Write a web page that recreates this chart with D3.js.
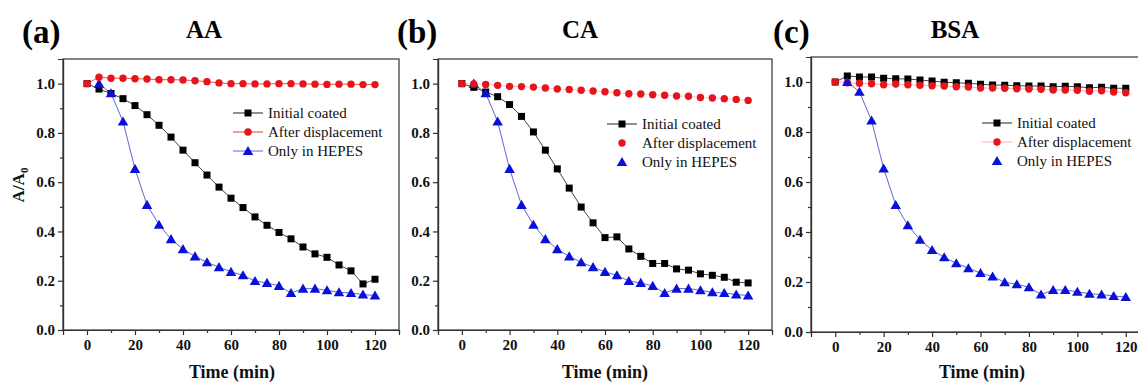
<!DOCTYPE html>
<html><head><meta charset="utf-8">
<script src="https://cdn.jsdelivr.net/npm/d3@7"></script>
<style>body{margin:0;background:#fff;} svg{display:block;} text{font-family:"Liberation Serif","Times New Roman",serif;}</style>
</head><body><svg id="c" width="1138" height="383"></svg>
<script>
// ---- data ----
const timeAll = [0,5,10,15,20,25,30,35,40,45,50,55,60,65,70,75,80,85,90,95,100,105,110,115,120];
const timeFrom5 = timeAll.slice(1);
const seriesNames = ["Initial coated","After displacement","Only in HEPES"];
const xTicks = [0,20,40,60,80,100,120];
const yTicks = [0.0,0.2,0.4,0.6,0.8,1.0];
const panelLetters = ["(a)","(b)","(c)"];
const panelTitles = ["AA","CA","BSA"];

const aaInitial = [1.0,0.978,0.96,0.939,0.911,0.874,0.831,0.783,0.730,0.679,0.629,0.580,0.535,0.497,0.459,0.425,0.396,0.370,0.337,0.309,0.295,0.264,0.240,0.187,0.206];
const aaAfter = [1.0,1.026,1.022,1.022,1.020,1.019,1.016,1.016,1.015,1.012,1.008,1.003,1.0,1.0,0.999,0.999,1.0,1.0,0.999,0.998,0.997,0.998,0.998,0.996,0.996];
const caInitial = [1.0,0.985,0.966,0.947,0.915,0.867,0.804,0.730,0.654,0.576,0.499,0.435,0.375,0.378,0.329,0.299,0.270,0.270,0.248,0.243,0.228,0.222,0.214,0.194,0.191];
const caAfter = [1.0,0.999,0.997,0.993,0.989,0.988,0.986,0.982,0.978,0.976,0.973,0.970,0.967,0.963,0.959,0.958,0.955,0.953,0.950,0.949,0.944,0.942,0.939,0.936,0.932];
const bsaInitial = [1.0,1.024,1.020,1.020,1.015,1.013,1.012,1.008,1.004,0.999,0.997,0.995,0.991,0.988,0.987,0.985,0.984,0.984,0.981,0.983,0.981,0.977,0.979,0.975,0.975];
const bsaAfter = [1.0,0.997,0.995,0.993,0.989,0.992,0.989,0.987,0.985,0.984,0.981,0.980,0.976,0.976,0.975,0.973,0.972,0.971,0.968,0.968,0.967,0.963,0.965,0.960,0.957];
const hepesOnly = [1.0,0.961,0.846,0.654,0.508,0.427,0.369,0.328,0.299,0.275,0.255,0.236,0.222,0.199,0.191,0.179,0.150,0.168,0.168,0.161,0.153,0.150,0.144,0.140];

// ---- layout ----
const panels = [
  {l:63, r:399, t:59, b:330, ini:aaInitial, aft:aaAfter, leg:{x:233,y:113}, legLines:[true,true,true], xl:232},
  {l:438, r:772, t:59, b:330, ini:caInitial, aft:caAfter, leg:{x:607,y:124}, legLines:[true,false,false], xl:605},
  {l:811, r:1150, t:57, b:332, ini:bsaInitial, aft:bsaAfter, leg:{x:982,y:123}, legLines:[true,true,false], xl:982, faintRed:true}
];
const titlePos = [{lx:22,tx:204},{lx:397,tx:580},{lx:773,tx:955}];
const serif = '"Liberation Serif","Times New Roman",serif';
const svg = d3.select("#c");
const defs = svg.append("defs");

panels.forEach((p,i)=>{
  const x = d3.scaleLinear().domain([-10,130]).range([p.l,p.r]);
  const y = d3.scaleLinear().domain([0,1.1]).range([p.b,p.t]);
  const g = svg.append("g");
  defs.append("clipPath").attr("id","clip"+i).append("rect")
    .attr("x",p.l).attr("y",p.t-10).attr("width",p.r-p.l).attr("height",p.b-p.t+20);

  g.append("rect").attr("x",p.l).attr("y",p.t).attr("width",p.r-p.l).attr("height",p.b-p.t)
    .attr("fill","none").attr("stroke","#333").attr("stroke-width",1.2);

  const xAx = g.append("g").attr("transform",`translate(0,${p.b})`)
    .call(d3.axisBottom(x).tickValues(xTicks).tickSize(5).tickPadding(4).tickFormat(d3.format("d")));
  const xMinor = g.append("g").attr("transform",`translate(0,${p.b})`)
    .call(d3.axisBottom(x).tickValues(d3.range(10,121,20)).tickSize(3).tickFormat(""));
  const yAx = g.append("g").attr("transform",`translate(${p.l},0)`)
    .call(d3.axisLeft(y).tickValues(yTicks).tickSize(5).tickPadding(3).tickFormat(d3.format(".1f")));
  const yMinor = g.append("g").attr("transform",`translate(${p.l},0)`)
    .call(d3.axisLeft(y).tickValues([0.1,0.3,0.5,0.7,0.9]).tickSize(3).tickFormat(""));
  [xAx,xMinor,yAx,yMinor].forEach(a=>{
    a.attr("font-family",null).style("font-family",serif);
    a.select(".domain").attr("stroke","#333").attr("stroke-width",1.2);
    a.selectAll("line").attr("stroke","#333").attr("stroke-width",1.2);
    a.selectAll("text").style("font-family",serif).attr("font-weight","bold").attr("font-size",15).attr("fill","#111");
  });

  const plot = g.append("g").attr("clip-path",`url(#clip${i})`);
  const line = d3.line().x(d=>x(d[0])).y(d=>y(d[1]));
  const ini = timeAll.map((t,k)=>[t,p.ini[k]]);
  const aft = timeAll.map((t,k)=>[t,p.aft[k]]);
  const hep = timeFrom5.map((t,k)=>[t,hepesOnly[k]]);

  plot.append("path").datum(aft).attr("d",line).attr("fill","none")
    .attr("stroke", p.faintRed ? "#f3b0b0" : (i===1 ? "#f0c8c8" : "#e04040")).attr("stroke-width",0.9);
  plot.append("path").datum(ini).attr("d",line).attr("fill","none").attr("stroke","#444").attr("stroke-width",1);
  plot.append("path").datum(hep).attr("d",line).attr("fill","none").attr("stroke","#5a6ad0").attr("stroke-width",1);

  const tri = d3.symbol().type(d3.symbolTriangle).size(48);
  const drawAfter = ()=>plot.selectAll(null).data(aft).enter().append("circle")
    .attr("cx",d=>x(d[0])).attr("cy",d=>y(d[1])).attr("r",3.7).attr("fill","#e8141c");
  const drawIni = ()=>plot.selectAll(null).data(ini).enter().append("rect")
    .attr("x",d=>x(d[0])-3.5).attr("y",d=>y(d[1])-3.5).attr("width",7).attr("height",7).attr("fill","#000");
  const drawHep = ()=>plot.selectAll(null).data(hep).enter().append("path")
    .attr("d",tri).attr("transform",d=>`translate(${x(d[0])},${y(d[1])+1})`).attr("fill","#0a10d8");
  if(i===2){ drawIni(); drawAfter(); drawHep(); }
  else { drawIni(); drawHep(); drawAfter(); }

  const lg = g.append("g");
  const cols = ["#222", p.faintRed ? "#f3b0b0" : "#e04040", "#5a6ad0"];
  seriesNames.forEach((n,k)=>{
    const yy = p.leg.y + k*19;
    if(p.legLines[k]) lg.append("line").attr("x1",p.leg.x).attr("x2",p.leg.x+30).attr("y1",yy).attr("y2",yy)
      .attr("stroke",cols[k]).attr("stroke-width",1);
    const mx = p.leg.x+15;
    if(k===0) lg.append("rect").attr("x",mx-3.5).attr("y",yy-3.5).attr("width",7).attr("height",7).attr("fill","#000");
    if(k===1) lg.append("circle").attr("cx",mx).attr("cy",yy).attr("r",3.7).attr("fill","#e8141c");
    if(k===2) lg.append("path").attr("d",tri).attr("transform",`translate(${mx},${yy+1})`).attr("fill","#0a10d8");
    lg.append("text").attr("x",p.leg.x+35).attr("y",yy+5).style("font-family",serif).attr("font-size",15)
      .attr("fill","#111").text(n);
  });

  g.append("text").attr("x",p.xl).attr("y",378).attr("text-anchor","middle").style("font-family",serif)
    .attr("font-weight","bold").attr("font-size",18).attr("fill","#111").text("Time (min)");

  svg.append("text").attr("x",titlePos[i].lx).attr("y",43).style("font-family",serif).attr("font-weight","bold")
    .attr("font-size",33).attr("fill","#000").text(panelLetters[i]);
  svg.append("text").attr("x",titlePos[i].tx).attr("y",38).attr("text-anchor","middle").style("font-family",serif)
    .attr("font-weight","bold").attr("font-size",25).attr("fill","#000").text(panelTitles[i]);
});

const yl = svg.append("text").attr("transform","translate(24,185) rotate(-90)").attr("text-anchor","middle")
  .style("font-family",serif).attr("font-weight","bold").attr("font-size",17).attr("fill","#111");
yl.append("tspan").text("A/A");
yl.append("tspan").attr("font-size",11).attr("dy",4).text("0");
</script></body></html>
